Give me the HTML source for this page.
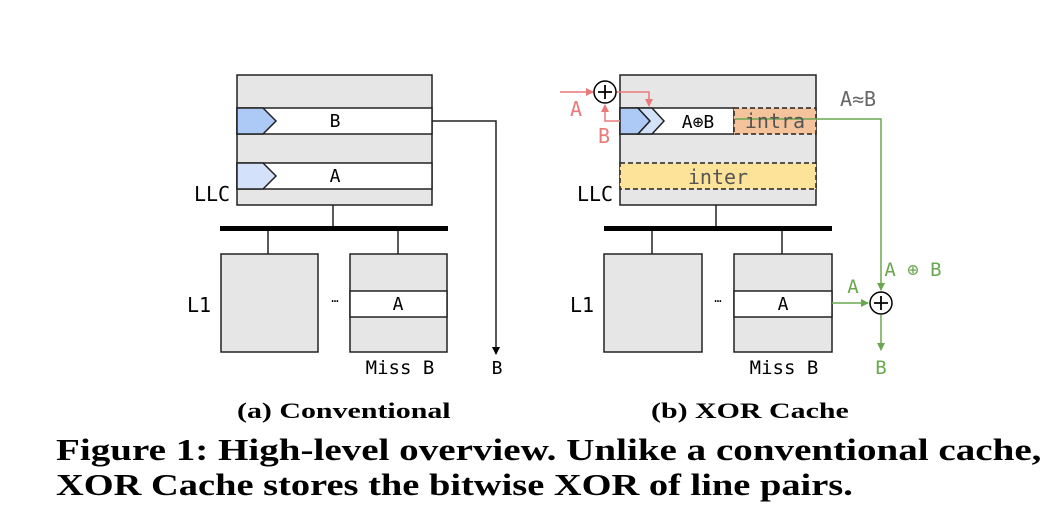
<!DOCTYPE html>
<html><head><style>
body{margin:0;background:#fff;width:1061px;height:530px;overflow:hidden}
.cap{position:absolute;font-family:"Liberation Serif",serif;font-weight:bold;color:#000;white-space:nowrap;transform-origin:0 0}
</style></head><body>
<svg width="1061" height="530" style="position:absolute;left:0;top:0" font-family="DejaVu Sans Mono, Liberation Mono, monospace">
<defs>
<marker id="ak" markerWidth="8" markerHeight="8" refX="7" refY="4" orient="auto" markerUnits="userSpaceOnUse"><path d="M0,0L8,4L0,8z" fill="#000"/></marker>
<marker id="ag" markerWidth="8" markerHeight="8" refX="7" refY="4" orient="auto" markerUnits="userSpaceOnUse"><path d="M0,0L8,4L0,8z" fill="#6aa84f"/></marker>
<marker id="ar" markerWidth="8" markerHeight="8" refX="7" refY="4" orient="auto" markerUnits="userSpaceOnUse"><path d="M0,0L8,4L0,8z" fill="#ea7a7a"/></marker>
</defs>
<g stroke="#222" stroke-width="1.5">
<rect x="237" y="75" width="195" height="130" fill="#e6e6e6"/>
<rect x="237" y="108" width="195" height="26" fill="#fff"/>
<rect x="237" y="163" width="195" height="26" fill="#fff"/>
<path d="M237,108H263L276,121L263,134H237z" fill="#adc9f5"/>
<path d="M237,163H263L276,176L263,189H237z" fill="#d3e2fa"/>
<line x1="333" y1="205" x2="333" y2="229"/>
<line x1="268" y1="229" x2="268" y2="254"/>
<line x1="398" y1="229" x2="398" y2="254"/>
<rect x="221" y="254" width="97" height="98" fill="#e6e6e6"/>
<rect x="350" y="254" width="97" height="98" fill="#e6e6e6"/>
<rect x="350" y="291" width="97" height="26" fill="#fff"/>
<polyline points="432,121 496,121 496,354" fill="none" marker-end="url(#ak)"/>
<rect x="620" y="75" width="196" height="130" fill="#e6e6e6"/>
<rect x="620" y="108" width="114" height="26" fill="#fff"/>
<path d="M620,108H638L650,121L638,134H620z" fill="#adc9f5"/>
<path d="M638,108H652L664,121L652,134H638L650,121z" fill="#d3e2fa"/>
<line x1="716" y1="205" x2="716" y2="229"/>
<line x1="652" y1="229" x2="652" y2="254"/>
<line x1="782" y1="229" x2="782" y2="254"/>
<rect x="604" y="254" width="98" height="98" fill="#e6e6e6"/>
<rect x="734" y="254" width="98" height="98" fill="#e6e6e6"/>
<rect x="734" y="291" width="98" height="26" fill="#fff"/>
</g>
<rect x="734" y="108" width="82" height="26" fill="#f4c39c" stroke="#222" stroke-width="1.5" stroke-dasharray="5,3"/>
<rect x="620" y="163" width="196" height="26" fill="#fde39a" stroke="#222" stroke-width="1.5" stroke-dasharray="5,3"/>
<rect x="220" y="226" width="228" height="5" fill="#000"/>
<rect x="604" y="226" width="228" height="5" fill="#000"/>
<g stroke="#ea7a7a" stroke-width="1.5" fill="none">
<line x1="560" y1="92" x2="593" y2="92" marker-end="url(#ar)"/>
<polyline points="616,92 649,92 649,106" marker-end="url(#ar)"/>
<polyline points="620,121 605,121 605,105" marker-end="url(#ar)"/>
</g>
<circle cx="605" cy="92" r="11" fill="#fff" stroke="#000" stroke-width="1.5"/>
<path d="M598,92H612M605,85V99" stroke="#000" stroke-width="1.8"/>
<g stroke="#6aa84f" stroke-width="1.5" fill="none">
<polyline points="735,119 881,119 881,290" marker-end="url(#ag)"/>
<line x1="832" y1="303" x2="868" y2="303" marker-end="url(#ag)"/>
<line x1="881" y1="315" x2="881" y2="350" marker-end="url(#ag)"/>
</g>
<circle cx="881" cy="303" r="11" fill="#fff" stroke="#000" stroke-width="1.5"/>
<path d="M874,303H888M881,296V310" stroke="#000" stroke-width="1.8"/>
<g font-size="18" fill="#000">
<text x="335" y="127" text-anchor="middle">B</text>
<text x="335" y="182" text-anchor="middle">A</text>
<text x="398" y="310" text-anchor="middle">A</text>
<text x="497" y="374" text-anchor="middle">B</text>
<text x="698" y="128" text-anchor="middle">A⊕B</text>
<text x="783" y="310" text-anchor="middle">A</text>
<text x="858" y="106" text-anchor="middle" fill="#666" font-size="20">A≈B</text>
<text x="576" y="116" text-anchor="middle" fill="#ea7a7a" font-size="20">A</text>
<text x="604" y="143" text-anchor="middle" fill="#ea7a7a" font-size="20">B</text>
<text x="913" y="276" text-anchor="middle" fill="#6aa84f" font-size="19">A ⊕ B</text>
<text x="853" y="293" text-anchor="middle" fill="#6aa84f" font-size="19">A</text>
<text x="881" y="374" text-anchor="middle" fill="#6aa84f" font-size="19">B</text>
<text x="212" y="201" text-anchor="middle" font-size="20">LLC</text>
<text x="595" y="201" text-anchor="middle" font-size="20">LLC</text>
<text x="199" y="312" text-anchor="middle" font-size="20">L1</text>
<text x="582" y="312" text-anchor="middle" font-size="20">L1</text>
<text x="400" y="374" text-anchor="middle" font-size="19">Miss B</text>
<text x="784" y="374" text-anchor="middle" font-size="19">Miss B</text>
<text x="335" y="302" text-anchor="middle" font-size="12">…</text>
<text x="718" y="302" text-anchor="middle" font-size="12">…</text>
<text x="775" y="128" text-anchor="middle" fill="#555" font-size="20">intra</text>
<text x="718" y="184" text-anchor="middle" fill="#555" font-size="20">inter</text>
</g>
</svg>
<div class="cap" style="left:237px;top:398px;font-size:22px;transform:scaleX(1.36)">(a) Conventional</div>
<div class="cap" style="left:651px;top:398px;font-size:22px;transform:scaleX(1.36)">(b) XOR Cache</div>
<div class="cap" style="left:56px;top:432px;font-size:31px;transform:scaleX(1.26)">Figure 1: High-level overview. Unlike a conventional cache,</div>
<div class="cap" style="left:56px;top:467px;font-size:31px;transform:scaleX(1.24)">XOR Cache stores the bitwise XOR of line pairs.</div>
</body></html>
